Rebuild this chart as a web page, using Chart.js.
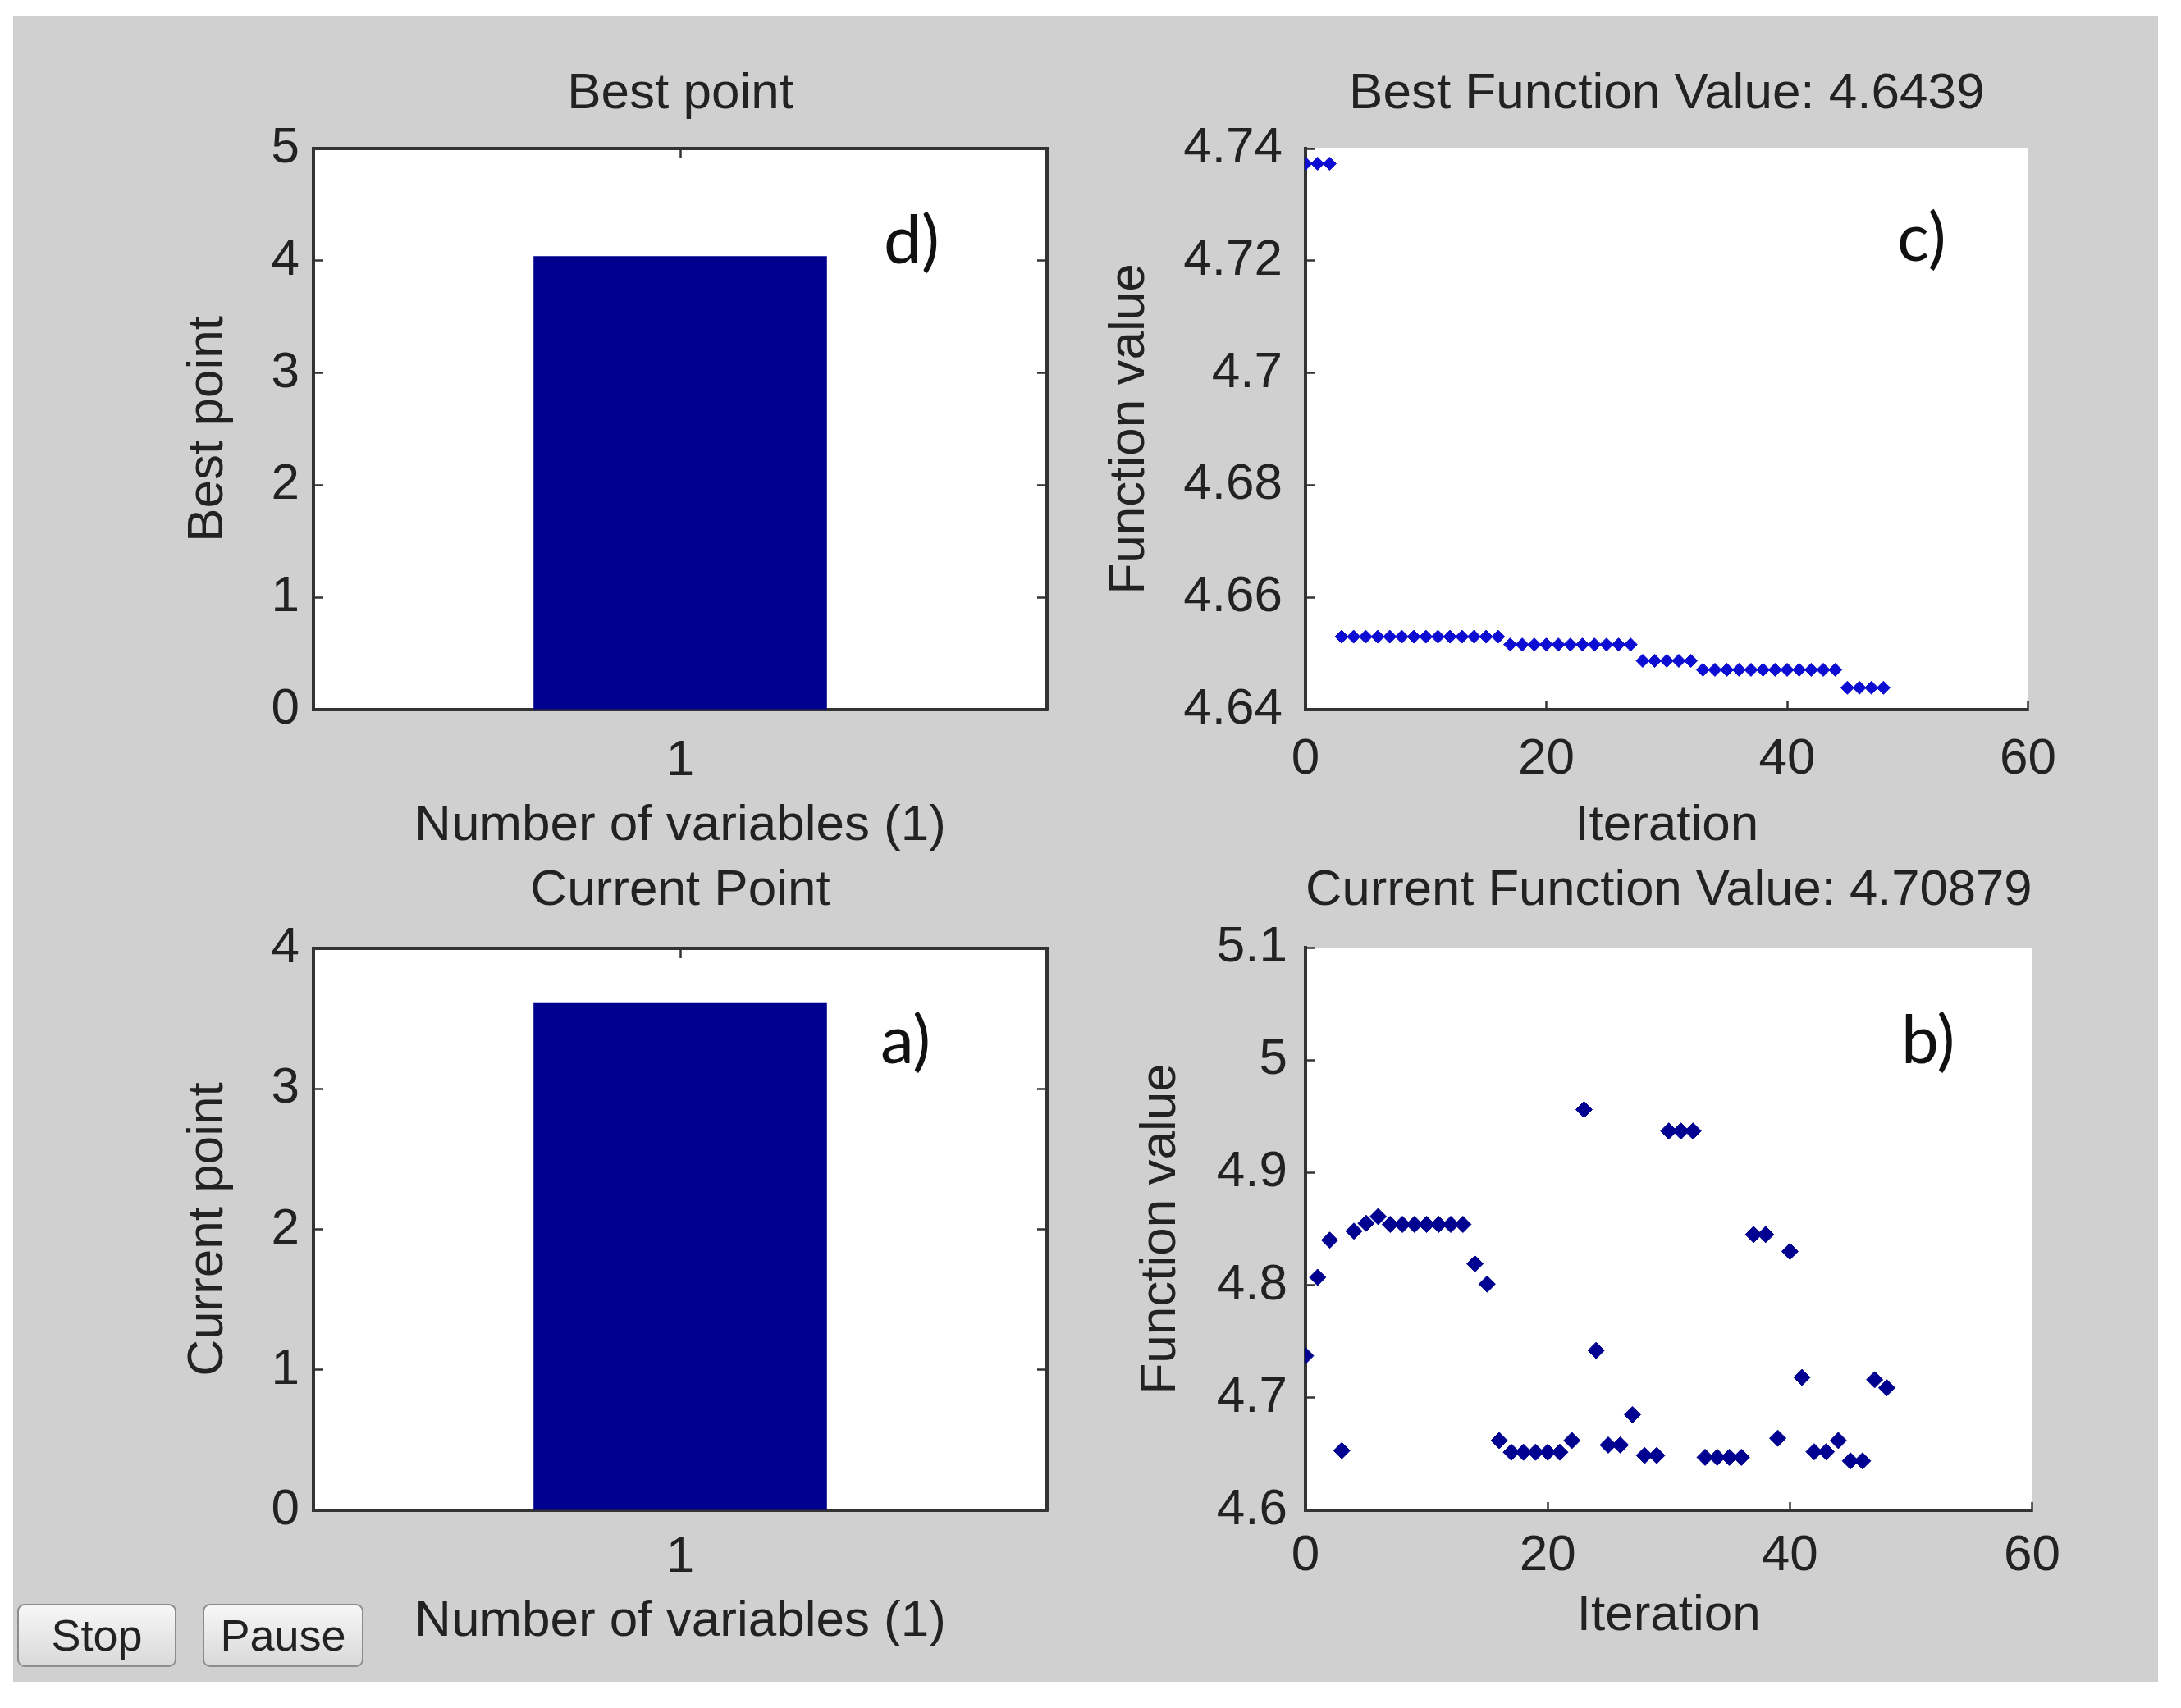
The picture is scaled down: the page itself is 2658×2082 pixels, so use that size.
<!DOCTYPE html>
<html>
<head>
<meta charset="utf-8">
<title>Optimization progress</title>
<script src="https://cdn.jsdelivr.net/npm/chart.js@4.4.1/dist/chart.umd.min.js"></script>
<style>
    html, body { margin: 0; padding: 0; background: #fff; }
    body { width: 2658px; height: 2082px; position: relative; overflow: hidden; font-family: "Liberation Sans", Arial, sans-serif; }
    #frame { position: absolute; left: 16px; top: 20px; width: 2614px; height: 2030px; background: #d0d0d0; }
    canvas { position: absolute; }
    .tag { position: absolute; font-family: Lato, "Open Sans", sans-serif; font-size: 82px; line-height: 1; color: #111; }
    .btn { position: absolute; top: 1955px; height: 73px; border: 2px solid #8c8c8c; border-radius: 9px;
           background: linear-gradient(#f7f7f7, #d9d9d9); font-size: 54px; line-height: 73px; text-align: center; color: #222; }
</style>
</head>
<body>
<div id="frame"></div>
<canvas id="bestPointChart" width="1180" height="1010" style="left:150px;top:40px"></canvas>
<canvas id="bestValueChart" width="1200" height="1010" style="left:1340px;top:40px"></canvas>
<canvas id="currentPointChart" width="1180" height="1025" style="left:150px;top:1015px"></canvas>
<canvas id="currentValueChart" width="1200" height="1025" style="left:1340px;top:1015px"></canvas>

<div class="tag" style="left:1077px;top:248px">d)</div>
<div class="tag" style="left:2312px;top:245px">c)</div>
<div class="tag" style="left:1073px;top:1223px">a)</div>
<div class="tag" style="left:2317px;top:1223px">b)</div>

<div class="btn" style="left:21px;width:190px">Stop</div>
<div class="btn" style="left:247px;width:192px">Pause</div>

<script>
// Data
const variableLabels = ['1'];
const bestPoint = [4.04];
const currentPoint = [3.61];

const iterations = [0, 1, 2, 3, 4, 5, 6, 7, 8, 9, 10, 11, 12, 13, 14, 15, 16, 17, 18, 19, 20, 21, 22, 23, 24,
    25, 26, 27, 28, 29, 30, 31, 32, 33, 34, 35, 36, 37, 38, 39, 40, 41, 42, 43, 44, 45, 46, 47, 48];

const bestValues = [4.7373, 4.7373, 4.7373,
    4.6530, 4.6530, 4.6530, 4.6530, 4.6530, 4.6530, 4.6530, 4.6530, 4.6530, 4.6530, 4.6530, 4.6530, 4.6530, 4.6530,
    4.6516, 4.6516, 4.6516, 4.6516, 4.6516, 4.6516, 4.6516, 4.6516, 4.6516, 4.6516, 4.6516,
    4.6487, 4.6487, 4.6487, 4.6487, 4.6487,
    4.6471, 4.6471, 4.6471, 4.6471, 4.6471, 4.6471, 4.6471, 4.6471, 4.6471, 4.6471, 4.6471, 4.6471,
    4.6439, 4.6439, 4.6439, 4.6439];

const currentValues = [4.7373, 4.807, 4.840, 4.6530, 4.848, 4.855, 4.861,
    4.854, 4.854, 4.854, 4.854, 4.854, 4.854, 4.854,
    4.819, 4.801, 4.662,
    4.6516, 4.6516, 4.6516, 4.6516, 4.6516,
    4.662, 4.956, 4.742, 4.658, 4.658, 4.685, 4.6487, 4.6487,
    4.937, 4.937, 4.937,
    4.6471, 4.6471, 4.6471, 4.6471,
    4.845, 4.845, 4.664, 4.830, 4.718, 4.652, 4.652, 4.662,
    4.6439, 4.6439, 4.716, 4.70879];

// Tick labels
const bestPointTicks = [0, 1, 2, 3, 4, 5];
const currentPointTicks = [0, 1, 2, 3, 4];
const bestValueTicks = [4.64, 4.66, 4.68, 4.70, 4.72, 4.74];
const currentValueTicks = [4.6, 4.7, 4.8, 4.9, 5.0, 5.1];
const iterationTicks = [0, 20, 40, 60];

const FONT = { family: '"Liberation Sans", Arial, sans-serif', size: 62, weight: 'normal' };
const INK = '#222';
const AXIS = '#333';
const TICK = 12;

Chart.defaults.color = INK;
Chart.defaults.font.family = FONT.family;
Chart.defaults.font.size = FONT.size;

// white plot box like the MATLAB axes
const plotBg = {
    id: 'plotBg',
    beforeDraw(chart) {
        const { ctx, chartArea: a } = chart;
        ctx.save();
        ctx.fillStyle = '#fff';
        ctx.fillRect(a.left, a.top, a.width, a.height);
        ctx.restore();
    }
};

function fixedTicks(list) {
    return scale => { scale.ticks = list.map(v => ({ value: v })); };
}

function yAxis(p) {
    return {
        type: 'linear',
        position: 'left',
        min: p.ticks[0],
        max: p.ticks[p.ticks.length - 1],
        afterBuildTicks: fixedTicks(p.ticks),
        afterFit: s => { s.width = p.width; },
        ticks: { padding: p.labelPad + TICK, callback: v => String(v), font: FONT, color: INK },
        grid: { drawOnChartArea: false, drawTicks: true, tickLength: -TICK, color: AXIS, tickWidth: 2.5 },
        border: { display: true, color: AXIS, width: 4 },
        title: { display: true, text: p.title, font: FONT, color: INK, padding: { top: p.titlePad, bottom: 0 } }
    };
}

function xTitle(text, pad) {
    return { display: true, text: text, font: FONT, color: INK, padding: { top: 0, bottom: pad } };
}

function chartTitle(text, top, bottom) {
    return { display: true, text: text, font: FONT, color: INK, fullSize: false, padding: { top: top, bottom: bottom } };
}

function barPanel(id, values, ticks, p) {
    new Chart(document.getElementById(id), {
        type: 'bar',
        data: {
            labels: variableLabels,
            datasets: [{
                data: values,
                backgroundColor: '#00008f',
                borderWidth: 0,
                barPercentage: 0.4,
                categoryPercentage: 1.0
            }]
        },
        options: {
            responsive: false,
            animation: false,
            devicePixelRatio: 1,
            layout: { padding: { left: 0, top: 0, right: p.right, bottom: 0 } },
            plugins: {
                legend: { display: false },
                tooltip: { enabled: false },
                title: chartTitle(p.title, p.titleTop, p.titleBottom)
            },
            scales: {
                x: {
                    type: 'category',
                    position: 'bottom',
                    offset: true,
                    afterFit: s => { s.height = p.xHeight; },
                    ticks: { padding: p.xPad + TICK, font: FONT, color: INK },
                    grid: { offset: false, drawOnChartArea: false, tickLength: -TICK, color: AXIS, tickWidth: 2.5 },
                    border: { display: true, color: AXIS, width: 4 },
                    title: xTitle('Number of variables (1)', p.xTitlePad)
                },
                xTop: {
                    type: 'category',
                    position: 'top',
                    offset: true,
                    afterFit: s => { s.height = 0; },
                    ticks: { display: false },
                    grid: { offset: false, drawOnChartArea: false, tickLength: -TICK, color: AXIS, tickWidth: 2.5 },
                    border: { display: true, color: AXIS, width: 4 }
                },
                y: yAxis({ ticks: ticks, width: p.yWidth, labelPad: p.yPad, title: p.yTitle, titlePad: p.yTitlePad }),
                yRight: {
                    type: 'linear',
                    position: 'right',
                    min: ticks[0],
                    max: ticks[ticks.length - 1],
                    afterBuildTicks: fixedTicks(ticks),
                    afterFit: s => { s.width = 0; },
                    ticks: { display: false },
                    grid: { drawOnChartArea: false, tickLength: -TICK, color: AXIS, tickWidth: 2.5 },
                    border: { display: true, color: AXIS, width: 4 }
                }
            }
        },
        plugins: [plotBg]
    });
}

function scatterPanel(id, values, ticks, p) {
    new Chart(document.getElementById(id), {
        type: 'scatter',
        data: {
            datasets: [{
                data: iterations.map((it, i) => ({ x: it, y: values[i] })),
                pointStyle: 'rectRot',
                pointRadius: p.radius,
                backgroundColor: p.color,
                borderColor: p.color,
                borderWidth: 1
            }]
        },
        options: {
            responsive: false,
            animation: false,
            devicePixelRatio: 1,
            layout: { padding: { left: 0, top: 0, right: p.right, bottom: 0 } },
            plugins: {
                legend: { display: false },
                tooltip: { enabled: false },
                title: chartTitle(p.title, p.titleTop, p.titleBottom)
            },
            scales: {
                x: {
                    type: 'linear',
                    position: 'bottom',
                    min: iterationTicks[0],
                    max: iterationTicks[iterationTicks.length - 1],
                    afterBuildTicks: fixedTicks(iterationTicks),
                    afterFit: s => { s.height = p.xHeight; },
                    ticks: { padding: p.xPad + TICK, font: FONT, color: INK },
                    grid: { drawOnChartArea: false, tickLength: -10, color: AXIS, tickWidth: 2.5 },
                    border: { display: true, color: AXIS, width: 4 },
                    title: xTitle('Iteration', p.xTitlePad)
                },
                y: yAxis({ ticks: ticks, width: p.yWidth, labelPad: p.yPad, title: 'Function value', titlePad: p.yTitlePad })
            }
        },
        plugins: [plotBg]
    });
}

barPanel('bestPointChart', bestPoint, bestPointTicks, {
    title: 'Best point', titleTop: 37.8, titleBottom: 28.8, right: 54,
    yWidth: 232, yPad: 17, yTitle: 'Best point', yTitlePad: 66.8,
    xHeight: 185, xPad: 26, xTitlePad: 5.8
});

barPanel('currentPointChart', currentPoint, currentPointTicks, {
    title: 'Current Point', titleTop: 33.8, titleBottom: 32.8, right: 54,
    yWidth: 232, yPad: 17, yTitle: 'Current point', yTitlePad: 66.8,
    xHeight: 199, xPad: 21, xTitlePad: 25.8
});

scatterPanel('bestValueChart', bestValues, bestValueTicks, {
    title: 'Best Function Value: 4.6439', titleTop: 37.8, titleBottom: 28.8, right: 57,
    yWidth: 251, yPad: 28, yTitlePad: 0,
    xHeight: 185, xPad: 22, xTitlePad: 5.8,
    radius: 8, color: '#0c0cd2'
});

scatterPanel('currentValueChart', currentValues, currentValueTicks, {
    title: 'Current Function Value: 4.70879', titleTop: 33.8, titleBottom: 31.8, right: 57,
    yWidth: 251, yPad: 22, yTitlePad: 37.8,
    xHeight: 199, xPad: 17, xTitlePad: 32.8,
    radius: 10, color: '#000090'
});
</script>
</body>
</html>
